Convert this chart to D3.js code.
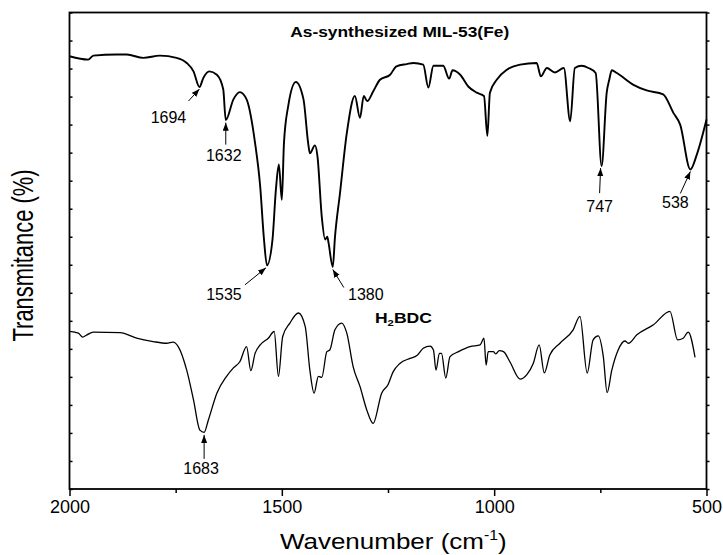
<!DOCTYPE html>
<html>
<head>
<meta charset="utf-8">
<script src="https://cdn.jsdelivr.net/npm/d3@7/dist/d3.min.js"></script>
<style>
  body { margin: 0; background: #fff; }
  svg { display: block; font-family: "Liberation Sans", Arial, sans-serif; }
</style>
</head>
<body>
<div id="chart"></div>
<script>
// Upper trace: as-synthesized MIL-53(Fe)
const milWavenumber = [2000, 1956, 1944, 1889, 1865, 1826, 1787, 1748, 1724, 1708, 1694, 1685, 1671, 1653, 1638, 1632,
  1614, 1599, 1583, 1563, 1551, 1542, 1535, 1522, 1514, 1507, 1500, 1495, 1485, 1467, 1449, 1438, 1434, 1422, 1416,
  1406, 1398, 1393, 1390, 1380, 1375, 1363, 1347, 1328, 1316, 1307, 1299, 1285, 1269, 1245, 1230, 1206, 1190, 1167,
  1155, 1143, 1120, 1106, 1098, 1080, 1061, 1041, 1024, 1016, 1010, 994, 970, 939, 900, 890, 876, 857, 836, 821, 810,
  794, 778, 761, 747, 735, 729, 723, 711, 672, 641, 602, 578, 562, 538, 523, 500];
const milTransmittance = [77.2, 76.6, 77.3, 77.5, 77.5, 76.9, 77.3, 76.9, 76.0, 74.5, 71.7, 73.3, 74.5, 73.9, 71.3, 65.8,
  69.5, 70.8, 69.5, 61.7, 54.0, 44.5, 39.9, 44.5, 53.4, 57.9, 51.6, 61.7, 68.3, 72.6, 69.5, 61.7, 59.9, 61.3, 59.3,
  48.6, 44.5, 45.0, 43.9, 39.6, 44.8, 52.8, 63.5, 70.1, 66.2, 70.1, 69.2, 70.9, 73.0, 73.9, 75.4, 75.8, 76.0, 75.7,
  71.6, 75.5, 75.5, 73.2, 74.7, 73.9, 71.8, 70.7, 70.1, 63.0, 70.7, 73.0, 74.8, 75.7, 76.0, 73.6, 75.1, 74.3, 75.1, 65.6, 75.1,
  75.5, 75.1, 74.2, 57.6, 70.7, 73.0, 74.7, 74.2, 72.1, 71.1, 70.4, 67.1, 65.0, 57.0, 59.6, 65.9];

// Lower trace: H2BDC
const bdcWavenumber = [2000, 1979, 1969, 1959, 1944, 1881, 1842, 1803, 1771, 1756, 1744, 1724, 1708, 1693, 1683, 1673,
  1653, 1630, 1614, 1599, 1583, 1573, 1563, 1551, 1532, 1518, 1508, 1498, 1481, 1461, 1445, 1434, 1424, 1414, 1406,
  1394, 1387, 1375, 1359, 1347, 1332, 1316, 1300, 1285, 1265, 1250, 1238, 1222, 1198, 1182, 1167, 1151, 1143, 1137,
  1129, 1124, 1114, 1104, 1084, 1057, 1033, 1024, 1019, 1014, 1002, 996, 988, 978, 963, 939, 923, 908, 894, 882, 869,
  845, 814, 798, 781, 767, 755, 743, 734, 723, 708, 692, 684, 664, 625, 586, 568, 555, 543, 527];
const bdcTransmittance = [28.1, 27.8, 27.1, 27.5, 28.0, 27.9, 26.9, 26.3, 26.0, 26.2, 25.4, 21.2, 15.9, 10.5, 10.1, 12.3,
  17.1, 20.1, 21.6, 22.7, 25.4, 21.1, 24.2, 25.7, 26.9, 28.1, 20.1, 27.2, 29.6, 31.4, 29.0, 21.2, 17.1, 20.1, 19.9,
  24.5, 24.8, 28.4, 29.6, 27.8, 21.8, 18.3, 14.1, 11.7, 17.1, 18.6, 20.9, 22.4, 23.3, 23.8, 25.1, 25.5, 24.8, 21.2,
  24.2, 24.2, 19.8, 23.6, 24.5, 25.4, 25.7, 26.9, 22.1, 24.5, 24.5, 24.1, 24.7, 24.5, 22.7, 19.6, 20.4, 22.4, 25.7, 20.7, 23.9,
  26.0, 28.4, 30.8, 20.7, 26.6, 27.3, 23.6, 17.2, 21.2, 24.8, 26.4, 26.0, 27.5, 29.3, 31.7, 26.6, 26.9, 28.0, 23.5];

const xTicks = [2000, 1500, 1000, 500];
const xMinorTicks = [1750, 1250, 750];
const yTicks = [0, 5, 10, 15, 20, 25, 30, 35, 40, 45, 50, 55, 60, 65, 70, 75, 80, 85];

// Marked bands
const peakWavenumbers = [1694, 1632, 1535, 1380, 747, 538, 1683];
const peakSeries = ["mil", "mil", "mil", "mil", "mil", "mil", "bdc"];

// Chart
const W = 723, H = 555;
const margin = {top: 12.5, right: 16.5, bottom: 66, left: 69.5};
const width = W - margin.left - margin.right;
const height = H - margin.top - margin.bottom;

const xScale = d3.scaleLinear().domain([2000, 500]).range([0, width]);
const yScale = d3.scaleLinear().domain([0, 85]).range([height, 0]);

const svgRoot = d3.select("#chart").append("svg")
  .attr("width", W)
  .attr("height", H);

svgRoot.append("defs").append("marker")
  .attr("id", "head")
  .attr("markerUnits", "userSpaceOnUse")
  .attr("markerWidth", 9).attr("markerHeight", 7)
  .attr("refX", 8).attr("refY", 3)
  .attr("orient", "auto")
  .append("path")
  .attr("d", "M0,0 L8,3 L0,6 Z")
  .attr("fill", "#000");

const svg = svgRoot.append("g")
  .attr("transform", `translate(${margin.left},${margin.top})`);

const series = {
  mil: milWavenumber.map((w, i) => [w, milTransmittance[i]]),
  bdc: bdcWavenumber.map((w, i) => [w, bdcTransmittance[i]])
};

const line = d3.line()
  .x(d => xScale(d[0]))
  .y(d => yScale(d[1]))
  .curve(d3.curveMonotoneX);

svg.append("path")
  .datum(series.mil)
  .attr("fill", "none")
  .attr("stroke", "#000")
  .attr("stroke-width", 1.9)
  .attr("stroke-linejoin", "round")
  .attr("d", line);

svg.append("path")
  .datum(series.bdc)
  .attr("fill", "none")
  .attr("stroke", "#000")
  .attr("stroke-width", 1.3)
  .attr("stroke-linejoin", "round")
  .attr("d", line);

// Axes
const xAxis = svg.append("g")
  .attr("transform", `translate(0,${height})`)
  .call(d3.axisBottom(xScale).tickValues(xTicks).tickSize(7).tickFormat(d3.format("d")));
xAxis.select(".domain").remove();
xAxis.selectAll("line").attr("stroke-width", 1.5);
xAxis.selectAll("text")
  .attr("y", 11)
  .attr("font-size", 18)
  .attr("font-family", "Liberation Sans, Arial, sans-serif");

const xMinor = svg.append("g")
  .attr("transform", `translate(0,${height})`)
  .call(d3.axisBottom(xScale).tickValues(xMinorTicks).tickSize(4).tickFormat(""));
xMinor.select(".domain").remove();
xMinor.selectAll("line").attr("stroke-width", 1.5);

const yLeft = svg.append("g")
  .call(d3.axisRight(yScale).tickValues(yTicks).tickSize(3).tickFormat(""));
yLeft.select(".domain").remove();
yLeft.selectAll("line").attr("stroke-width", 1.5);

const yRight = svg.append("g")
  .attr("transform", `translate(${width},0)`)
  .call(d3.axisRight(yScale).tickValues(yTicks).tickSize(3).tickFormat(""));
yRight.select(".domain").remove();
yRight.selectAll("line").attr("stroke-width", 1.5);

svg.append("rect")
  .attr("width", width)
  .attr("height", height)
  .attr("fill", "none")
  .attr("stroke", "#000")
  .attr("stroke-width", 1.8);

// Peak callouts: arrow tail and label offsets from the tip (px)
const calloutLayout = {
  1694: {tip: [0, 2], tail: [-11, 12], label: [-31, 34]},
  1632: {tip: [0, 2.5], tail: [0, 22], label: [-2, 38.5]},
  1535: {tip: [-1, 2.5], tail: [-21, 17], label: [-42, 32.5]},
  1380: {tip: [0, 2.5], tail: [11, 18], label: [33, 30.5]},
  747: {tip: [-1, 2], tail: [-1, 25], label: [-1, 43.5]},
  538: {tip: [0, 2], tail: [-10, 22], label: [-15, 37]},
  1683: {tip: [0, 2.5], tail: [0, 24], label: [-3, 39]}
};

peakWavenumbers.forEach((wn, i) => {
  const pts = series[peakSeries[i]];
  const p = pts.reduce((a, b) => Math.abs(b[0] - wn) < Math.abs(a[0] - wn) ? b : a);
  const lay = calloutLayout[wn];
  const tx = xScale(wn) + lay.tip[0];
  const ty = yScale(p[1]) + lay.tip[1];
  svg.append("line")
    .attr("x1", tx + lay.tail[0]).attr("y1", ty + lay.tail[1])
    .attr("x2", tx).attr("y2", ty)
    .attr("stroke", "#000")
    .attr("stroke-width", 1)
    .attr("marker-end", "url(#head)");
  svg.append("text")
    .attr("x", tx + lay.label[0])
    .attr("y", ty + lay.label[1])
    .attr("text-anchor", "middle")
    .attr("font-size", 16)
    .text(String(wn));
});

// Stretch a text element horizontally to a given width
function fitWidth(sel, target) {
  const w = sel.node().getComputedTextLength();
  return target / w;
}

const t1 = svgRoot.append("text")
  .attr("text-anchor", "middle")
  .attr("font-size", 14)
  .attr("font-weight", "bold")
  .text("As-synthesized MIL-53(Fe)");
t1.attr("transform", `translate(399.7,37.3) scale(${fitWidth(t1, 219)},1)`);

const t2 = svgRoot.append("text")
  .attr("text-anchor", "middle")
  .attr("font-size", 14)
  .attr("font-weight", "bold");
t2.append("tspan").text("H");
t2.append("tspan").attr("font-size", 9).attr("dy", 3).text("2");
t2.append("tspan").attr("dy", -3).text("BDC");
t2.attr("transform", `translate(403.4,323.3) scale(${fitWidth(t2, 57)},1)`);

const xt = svgRoot.append("text")
  .attr("text-anchor", "middle")
  .attr("font-size", 23);
xt.append("tspan").text("Wavenumber (cm");
xt.append("tspan").attr("font-size", 14).attr("dy", -9).text("-1");
xt.append("tspan").attr("dy", 9).text(")");
xt.attr("transform", `translate(393.3,549) scale(${fitWidth(xt, 227)},1)`);

const yt = svgRoot.append("text")
  .attr("text-anchor", "middle")
  .attr("font-size", 30)
  .text("Transmitance (%)");
yt.attr("transform", `translate(33.3,255.5) rotate(-90) scale(${fitWidth(yt, 172)},1)`);
</script>
</body>
</html>
